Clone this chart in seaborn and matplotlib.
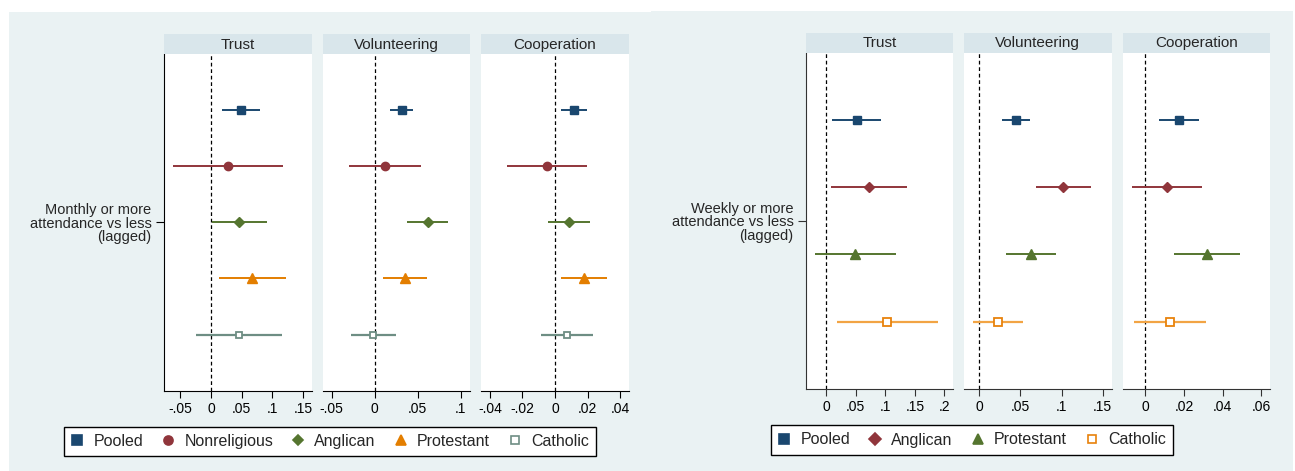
import numpy as np
import pandas as pd
import seaborn as sns
import matplotlib.pyplot as plt
from matplotlib.patches import Rectangle
from matplotlib.lines import Line2D
from matplotlib.ticker import FuncFormatter

## Data: point estimates and 95% CIs
outcomes = ["Trust", "Volunteering", "Cooperation"]

# monthly attendance (left block)
left_groups = ["Pooled", "Nonreligious", "Anglican", "Protestant", "Catholic"]
left_trust_est = [0.0485, 0.0278, 0.0458, 0.0675, 0.0458]
left_trust_lo = [0.0185, -0.0616, 0.0010, 0.0130, -0.0245]
left_trust_hi = [0.0800, 0.1170, 0.0910, 0.1220, 0.1165]
left_vol_est = [0.0317, 0.0120, 0.0618, 0.0355, -0.0020]
left_vol_lo = [0.0180, -0.0300, 0.0380, 0.0100, -0.0280]
left_vol_hi = [0.0450, 0.0540, 0.0847, 0.0610, 0.0243]
left_coop_est = [0.0115, -0.0051, 0.0088, 0.0176, 0.0072]
left_coop_lo = [0.0037, -0.0297, -0.0041, 0.0037, -0.0086]
left_coop_hi = [0.0197, 0.0199, 0.0215, 0.0320, 0.0232]

# weekly attendance (right block)
right_groups = ["Pooled", "Anglican", "Protestant", "Catholic"]
right_trust_est = [0.0524, 0.0726, 0.0495, 0.1036]
right_trust_lo = [0.0101, 0.0084, -0.0191, 0.0186]
right_trust_hi = [0.0935, 0.1370, 0.1180, 0.1900]
right_vol_est = [0.0443, 0.1022, 0.0625, 0.0227]
right_vol_lo = [0.0272, 0.0694, 0.0329, -0.0073]
right_vol_hi = [0.0617, 0.1360, 0.0930, 0.0535]
right_coop_est = [0.0174, 0.0112, 0.0317, 0.0129]
right_coop_lo = [0.0071, -0.0070, 0.0147, -0.0057]
right_coop_hi = [0.0278, 0.0295, 0.0488, 0.0315]

left_label = "Monthly or more\nattendance vs less\n(lagged)"
right_label = "Weekly or more\nattendance vs less\n(lagged)"

left_ticks = [[-0.05, 0, 0.05, 0.1, 0.15], [-0.05, 0, 0.05, 0.1], [-0.04, -0.02, 0, 0.02, 0.04]]
right_ticks = [[0, 0.05, 0.1, 0.15, 0.2], [0, 0.05, 0.1, 0.15], [0, 0.02, 0.04, 0.06]]


def tidy(groups, est, lo, hi):
    rows = []
    for k, o in enumerate(outcomes):
        for i, g in enumerate(groups):
            rows.append(dict(outcome=o, group=g, pos=i + 1, est=est[k][i], lo=lo[k][i], hi=hi[k][i]))
    return pd.DataFrame(rows)


left_df = tidy(left_groups,
               [left_trust_est, left_vol_est, left_coop_est],
               [left_trust_lo, left_vol_lo, left_coop_lo],
               [left_trust_hi, left_vol_hi, left_coop_hi])
right_df = tidy(right_groups,
                [right_trust_est, right_vol_est, right_coop_est],
                [right_trust_lo, right_vol_lo, right_coop_lo],
                [right_trust_hi, right_vol_hi, right_coop_hi])

## Styles (Stata s2color look)
navy, maroon, green, orange, teal = "#1a476f", "#90353b", "#55752f", "#e37e00", "#6e8e84"
BG, STRIP = "#eaf2f3", "#d9e6eb"

left_style = {
    "Pooled": dict(marker="s", ms=6, color=navy, line=navy, fill=True),
    "Nonreligious": dict(marker="o", ms=6, color=maroon, line=maroon, fill=True),
    "Anglican": dict(marker="D", ms=5, color=green, line=green, fill=True),
    "Protestant": dict(marker="^", ms=6.5, color=orange, line=orange, fill=True),
    "Catholic": dict(marker="s", ms=5, color=teal, line=teal, fill=False),
}
right_style = {
    "Pooled": dict(marker="s", ms=6, color=navy, line=navy, fill=True),
    "Anglican": dict(marker="D", ms=5.5, color=maroon, line=maroon, fill=True),
    "Protestant": dict(marker="^", ms=7, color=green, line=green, fill=True),
    "Catholic": dict(marker="s", ms=5.5, color="#e8820c", line="#f2a444", fill=False),
}

sns.set_style("ticks")
plt.rcParams["font.family"] = ["Liberation Sans", "DejaVu Sans"]

W, H = 1295, 471
fig = plt.figure(figsize=(W / 100, H / 100), dpi=100)
fig.patch.set_facecolor("white")

# panel backgrounds
fig.patches.append(Rectangle((9 / W, 0), (651 - 9) / W, 1 - 12 / H, transform=fig.transFigure,
                             facecolor=BG, edgecolor="none", zorder=-10))
fig.patches.append(Rectangle((651 / W, 0), (1293 - 651) / W, 1 - 11 / H, transform=fig.transFigure,
                             facecolor=BG, edgecolor="none", zorder=-10))


def stata_fmt(v, _):
    if abs(v) < 1e-12:
        return "0"
    s = ("%g" % v).replace("0.", ".")
    return s


def block(df, styles, boxes, top, bottom, strip_top, xlims, ticks, ylabel, nrows, axcol):
    for k, o in enumerate(outcomes):
        x0, x1 = boxes[k]
        ax = fig.add_axes([x0 / W, 1 - bottom / H, (x1 - x0) / W, (bottom - top) / H])
        ax.set_facecolor("white")
        sub = df[df.outcome == o]
        ax.axvline(0, color="black", lw=0.9, ls=(0, (3, 2.2)), zorder=1)
        for _, r in sub.iterrows():
            st = styles[r.group]
            ax.hlines(r.pos, r.lo, r.hi, color=st["line"], lw=1.4 if r.group != "Catholic" else 1.6, zorder=2)
            ax.plot(r.est, r.pos, marker=st["marker"], ms=st["ms"], ls="none",
                    markerfacecolor=st["color"] if st["fill"] else "white",
                    markeredgecolor=st["color"], markeredgewidth=1.0 if st["fill"] else 1.3, zorder=3)
        ax.set_xlim(*xlims[k])
        ax.set_ylim(nrows + 1, 0)
        ax.set_xticks(ticks[k])
        ax.xaxis.set_major_formatter(FuncFormatter(stata_fmt))
        ax.tick_params(axis="x", length=5, width=0.8, color=axcol, labelsize=10, pad=3, labelcolor="black")
        sns.despine(ax=ax, top=True, right=True, left=(k != 0))
        ax.spines["bottom"].set_color(axcol)
        ax.spines["left"].set_color(axcol)
        if k == 0:
            ax.set_yticks([(nrows + 1) / 2])
            ax.set_yticklabels([ylabel], fontsize=10.5, linespacing=0.97)
            ax.tick_params(axis="y", length=6, width=0.8, color=axcol, pad=3)
            for t in ax.get_yticklabels():
                t.set_horizontalalignment("right")
        else:
            ax.set_yticks([])
        ax.set_xlabel("")
        ax.set_ylabel("")
        # facet strip
        sax = fig.add_axes([x0 / W, 1 - top / H, (x1 - x0) / W, (top - strip_top) / H])
        sax.set_facecolor(STRIP)
        sax.set_xticks([])
        sax.set_yticks([])
        for sp in sax.spines.values():
            sp.set_visible(False)
        sax.text(0.5, 0.47, o, ha="center", va="center", fontsize=11, transform=sax.transAxes)


block(left_df, left_style,
      [(164, 311.7), (322.7, 470), (481, 629)], 54, 390.7, 34,
      [(-0.0768, 0.1645), (-0.0603, 0.1106), (-0.0455, 0.0455)],
      left_ticks, left_label, len(left_groups), "black")
block(right_df, right_style,
      [(806, 953.3), (964, 1111.7), (1123, 1270.3)], 52.7, 389, 32.7,
      [(-0.0338, 0.215), (-0.0186, 0.161), (-0.0115, 0.0646)],
      right_ticks, right_label, len(right_groups), "#333333")


def legend_for(groups, styles, cx, cy):
    handles = []
    for g in groups:
        st = styles[g]
        handles.append(Line2D([], [], ls="none", marker=st["marker"], ms=st["ms"] + 0.5,
                              markerfacecolor=st["color"] if st["fill"] else "white",
                              markeredgecolor=st["color"], markeredgewidth=1.2))
    leg = fig.legend(handles, groups, loc="center", bbox_to_anchor=(cx / W, 1 - cy / H),
                     ncol=len(groups), frameon=True, fancybox=False, fontsize=11.5,
                     handlelength=0.8, handletextpad=0.6, columnspacing=1.18,
                     borderpad=0.45, borderaxespad=0)
    leg.get_frame().set_edgecolor("black")
    leg.get_frame().set_linewidth(1.0)
    leg.get_frame().set_facecolor("white")
    leg.get_frame().set_alpha(1)
    return leg


legend_for(left_groups, left_style, 330, 441.5)
legend_for(right_groups, right_style, 972, 440)

fig.savefig("out.png", dpi=100, facecolor="white")
